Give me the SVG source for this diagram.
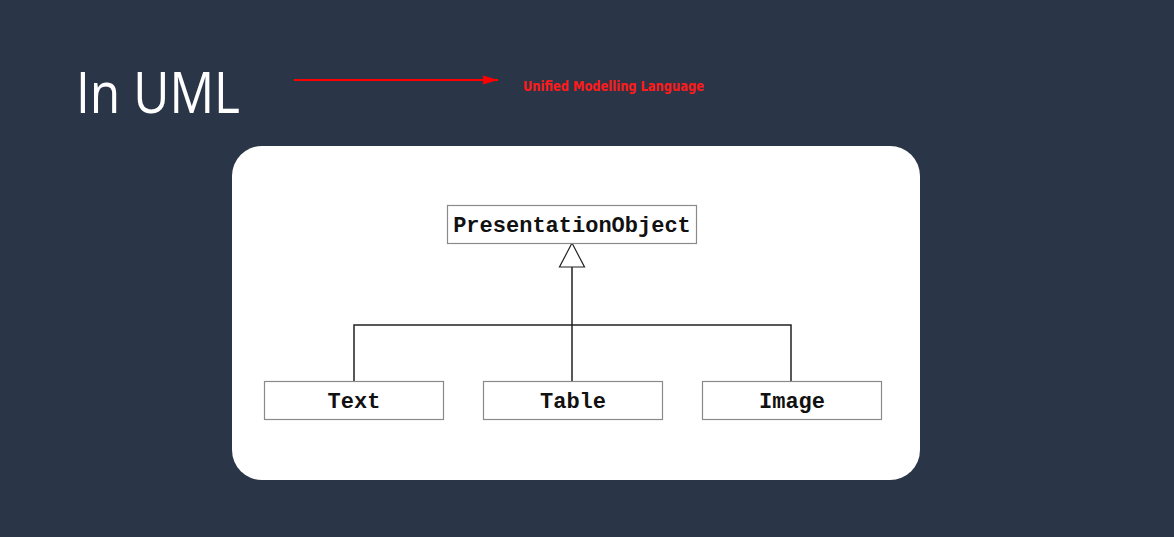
<svg xmlns="http://www.w3.org/2000/svg" width="1174" height="537" viewBox="0 0 1174 537">
<style>
.box{fill:#ffffff;stroke:#8a8a8a;stroke-width:1.2}
.lbl{font-family:"Liberation Mono","Courier New",monospace;font-weight:bold;font-size:22px;fill:#111;text-anchor:middle}
.conn{stroke:#222;stroke-width:1.5;fill:none}
</style>
<defs>
<marker id="redhead" markerWidth="16" markerHeight="10" refX="15" refY="5" orient="auto" markerUnits="userSpaceOnUse">
<path d="M0,0.5 L15,5 L0,9.5 Z" fill="#ff0000"/>
</marker>
</defs>
<rect x="0" y="0" width="1174" height="537" fill="#2a3648"/>
<text x="76" y="113" font-family="'Open Sans','Liberation Sans',sans-serif" font-weight="400" font-size="57" fill="#ffffff" textLength="164" lengthAdjust="spacingAndGlyphs">In UML</text>
<g id="annotation">
<line x1="294" y1="80" x2="498" y2="80" stroke="#ff0000" stroke-width="2.2" marker-end="url(#redhead)"/>
<text x="523" y="91" font-family="'DejaVu Sans Condensed','DejaVu Sans',sans-serif" font-weight="bold" font-size="13.5" fill="#ff1a1a" textLength="181" lengthAdjust="spacingAndGlyphs">Unified Modelling Language</text>
</g>
<rect id="card" x="232" y="146" width="688" height="334" rx="30" ry="30" fill="#ffffff"/>
<g id="connectors">
<path class="conn" d="M354,381 V325 H791 V381 M572,381 V267"/>
<path d="M572,243 L584.5,267 L559.5,267 Z" fill="#ffffff" stroke="#222" stroke-width="1.2"/>
</g>
<g id="PresentationObject">
<rect class="box" x="447.5" y="205.5" width="249" height="38"/>
<text class="lbl" x="572" y="232">PresentationObject</text>
</g>
<g id="Text">
<rect class="box" x="264.5" y="381.5" width="179" height="38"/>
<text class="lbl" x="354" y="408">Text</text>
</g>
<g id="Table">
<rect class="box" x="483.5" y="381.5" width="179" height="38"/>
<text class="lbl" x="573" y="408">Table</text>
</g>
<g id="Image">
<rect class="box" x="702.5" y="381.5" width="179" height="38"/>
<text class="lbl" x="792" y="408">Image</text>
</g>
</svg>
